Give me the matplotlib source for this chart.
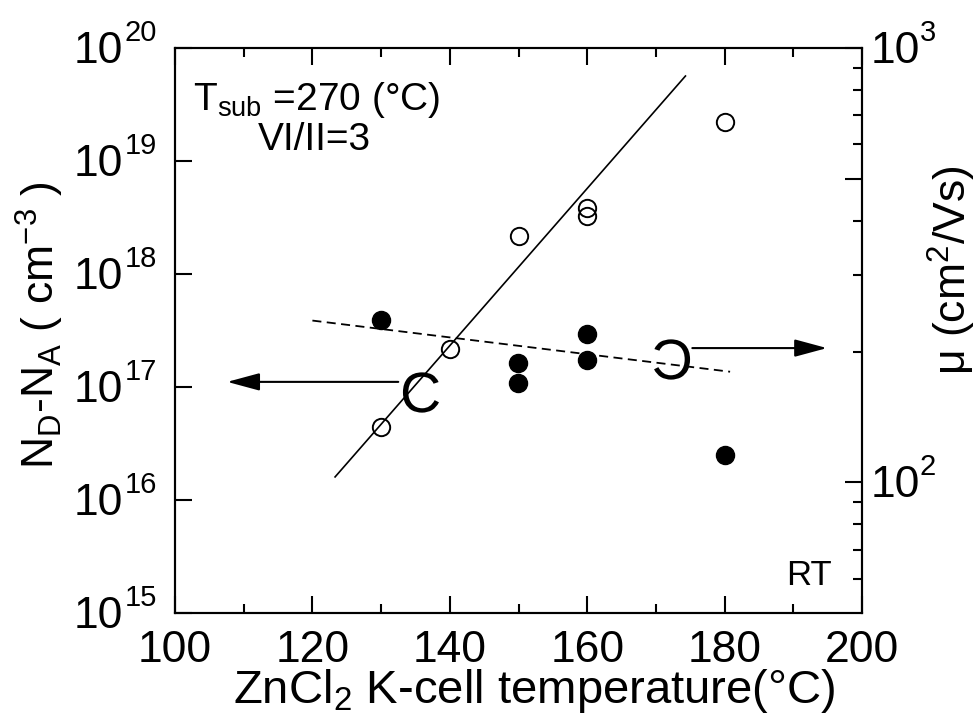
import matplotlib
matplotlib.use("Agg")
import numpy as np
import matplotlib.pyplot as plt
from matplotlib.ticker import FixedLocator, NullFormatter
from matplotlib.textpath import TextPath
from matplotlib.font_manager import FontProperties
from matplotlib.path import Path

plt.rcParams['font.family'] = ['Liberation Sans', 'DejaVu Sans']
plt.rcParams['mathtext.fontset'] = 'custom'
plt.rcParams['mathtext.rm'] = 'Liberation Sans'
plt.rcParams['mathtext.it'] = 'Liberation Sans:italic'
plt.rcParams['mathtext.bf'] = 'Liberation Sans:bold'
plt.rcParams['mathtext.default'] = 'regular'

# ---------------- data ----------------
temp_n = [130, 140, 150, 160, 160, 180]                 # ZnCl2 K-cell temperature (C)
carrier = [4.47e16, 2.19e17, 2.16e18, 3.85e18, 3.29e18, 2.21e19]   # N_D - N_A (cm^-3)

temp_mu = [130, 150, 150, 160, 160, 180]
mobility = [237, 188.5, 169.6, 219, 191, 115.6]          # mu (cm^2/Vs)

fit_n_x = [123.3, 174.3]
fit_n_y = [1.6e16, 5.65e19]

fit_mu_x = [120, 180.8]
fit_mu_y = [235.7, 179.7]

x_major = [100, 120, 140, 160, 180, 200]
x_minor = [110, 130, 150, 170, 190]
left_decades = [15, 16, 17, 18, 19, 20]
right_major = [100, 500, 1000]
right_minor = [60, 70, 80, 90, 200, 300, 400, 600, 700, 800, 900]
right_labels = {100: '2', 1000: '3'}

# ---------------- figure ----------------
W, H = 978, 719
fig = plt.figure(figsize=(W / 100, H / 100), dpi=100)
x0, x1, y0, y1 = 175, 862, 48, 613
ax = fig.add_axes([x0 / W, 1 - y1 / H, (x1 - x0) / W, (y1 - y0) / H])
ax2 = ax.twinx()

ax.set_xlim(100, 200)
ax.set_yscale('log')
ax.set_ylim(1e15, 1e20)
ax2.set_yscale('log')
ax2.set_ylim(50, 1000)

for a in (ax, ax2):
    for s in a.spines.values():
        s.set_linewidth(1.5)

ax.xaxis.set_major_locator(FixedLocator(x_major))
ax.xaxis.set_minor_locator(FixedLocator(x_minor))
ax.set_xticklabels([str(v) for v in x_major])
ax.yaxis.set_major_locator(FixedLocator([10.0 ** d for d in left_decades]))
ax.yaxis.set_minor_locator(FixedLocator([]))
ax.yaxis.set_major_formatter(NullFormatter())
ax.yaxis.set_minor_formatter(NullFormatter())
ax.tick_params(axis='x', which='both', direction='in', top=True, bottom=True,
               labelsize=32, pad=12)
ax.tick_params(axis='x', which='major', length=12, width=1.5)
ax.tick_params(axis='x', which='minor', length=6.5, width=1.5)
ax.tick_params(axis='y', which='both', direction='in', left=True, right=False,
               length=12, width=1.5)

ax2.yaxis.set_major_locator(FixedLocator(right_major))
ax2.yaxis.set_minor_locator(FixedLocator(right_minor))
ax2.yaxis.set_major_formatter(NullFormatter())
ax2.yaxis.set_minor_formatter(NullFormatter())
ax2.tick_params(axis='y', which='both', direction='in', right=True, left=False)
ax2.tick_params(axis='y', which='major', length=12, width=1.5)
ax2.tick_params(axis='y', which='minor', length=6.5, width=1.5)

# custom power-of-ten tick labels
ytr = ax.get_yaxis_transform()
for d in left_decades:
    ax.annotate('10', xy=(0, 10.0 ** d), xycoords=ytr, xytext=(-52, -15),
                textcoords='offset pixels', ha='right', va='baseline',
                fontsize=32, annotation_clip=False)
    ax.annotate(str(d), xy=(0, 10.0 ** d), xycoords=ytr, xytext=(-50, 7),
                textcoords='offset pixels', ha='left', va='baseline',
                fontsize=21, annotation_clip=False)
ytr2 = ax2.get_yaxis_transform()
for v, e in right_labels.items():
    ax2.annotate('10', xy=(1, v), xycoords=ytr2, xytext=(9, -15),
                 textcoords='offset pixels', ha='left', va='baseline',
                 fontsize=32, annotation_clip=False)
    ax2.annotate(e, xy=(1, v), xycoords=ytr2, xytext=(58, 7),
                 textcoords='offset pixels', ha='left', va='baseline',
                 fontsize=21, annotation_clip=False)

# ---------------- data marks ----------------
ax.plot(fit_n_x, fit_n_y, color='black', lw=1.2, zorder=2)
ax.plot(temp_n, carrier, linestyle='none', marker='o', ms=12.5, mfc='none',
        mec='black', mew=1.4, zorder=3)
ax2.plot(fit_mu_x, fit_mu_y, color='black', lw=1.3, linestyle=(0, (5, 3)), zorder=2)
ax2.plot(temp_mu, mobility, linestyle='none', marker='o', ms=13, mfc='black',
         mec='black', zorder=3)


# direction indicators: letter "C" and its mirror image used as markers
def letter_marker(mirror=False):
    tp = TextPath((0, 0), 'C', size=100, prop=FontProperties(family='Liberation Sans'))
    v = tp.vertices.copy()
    ext_min, ext_max = v.min(axis=0), v.max(axis=0)
    v = v - (ext_min + ext_max) / 2
    if mirror:
        v[:, 0] = -v[:, 0]
    return Path(v, tp.codes)


ax.plot([135.5], [8.94e16], linestyle='none', marker=letter_marker(False), ms=29,
        mfc='black', mec='none', zorder=4)
ax.annotate('', xy=(107.6, 1.11e17), xytext=(132.5, 1.11e17),
            arrowprops=dict(arrowstyle='-|>,head_length=1.0,head_width=0.27',
                            mutation_scale=20, lw=1.5, color='black',
                            shrinkA=0, shrinkB=0))
ax2.plot([172.56], [192.3], linestyle='none', marker=letter_marker(True), ms=29,
         mfc='black', mec='none', zorder=4)
ax2.annotate('', xy=(194.9, 203.7), xytext=(175.3, 203.7),
             arrowprops=dict(arrowstyle='-|>,head_length=1.0,head_width=0.27',
                             mutation_scale=20, lw=1.5, color='black',
                             shrinkA=0, shrinkB=0))

# ---------------- texts ----------------
fig.text(193 / W, 1 - 110 / H, r'T$_{sub}$ =270 (°C)', fontsize=28,
         ha='left', va='baseline')
fig.text(258 / W, 1 - 150 / H, 'VI/II=3', fontsize=28, ha='left', va='baseline')
fig.text(832 / W, 1 - 585 / H, 'RT', fontsize=25, ha='right', va='baseline')

fig.text(534 / W, 1 - 703 / H, r'ZnCl$_2$ K-cell temperature(°C)', fontsize=34,
         ha='center', va='baseline')
fig.text(40 / W, 1 - 325 / H, r'N$_D$-N$_A$ ( cm$^{-3}$ )', fontsize=32,
         rotation=90, ha='center', va='center')
fig.text(952 / W, 1 - 270 / H, r'μ (cm$^2$/Vs)', fontsize=32,
         rotation=90, ha='center', va='center')

fig.savefig('out.png', dpi=100)
